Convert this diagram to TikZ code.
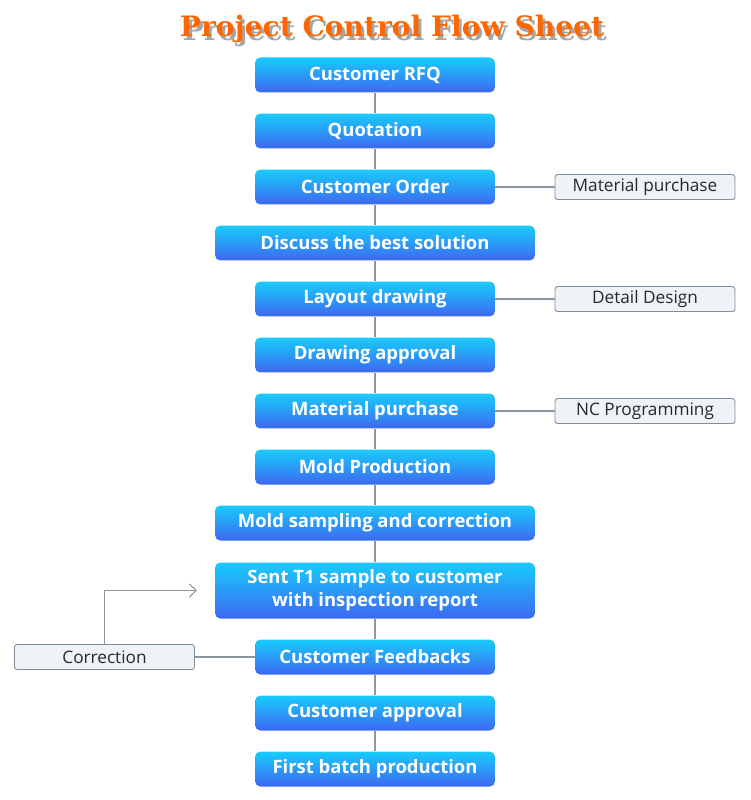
\documentclass[tikz,border=0pt]{standalone}
\usepackage{fontspec}
\setmainfont{Open Sans}
\newfontfamily\titlefont{DejaVu Serif}
\usetikzlibrary{arrows.meta}

\definecolor{boxtop}{RGB}{24,204,252}
\definecolor{boxbot}{RGB}{62,104,242}
\definecolor{linegray}{RGB}{140,150,160}
\definecolor{sidefill}{RGB}{238,243,248}
\definecolor{sidedraw}{RGB}{128,140,152}
\definecolor{sidetext}{RGB}{40,40,40}
\definecolor{titleorange}{RGB}{255,102,0}

\newcommand{\flowtitle}{Project Control Flow Sheet}

\begin{document}
\begin{tikzpicture}[x=0.02cm,y=-0.02cm,
    stepbox/.style={rounded corners=3pt,top color=boxtop,bottom color=boxbot,
      minimum width=4.8cm,minimum height=0.7cm,inner sep=1pt,
      text=white,font=\bfseries\fontsize{10.5}{13}\selectfont,align=center},
    widebox/.style={stepbox,minimum width=6.4cm},
    sidebox/.style={draw=sidedraw,fill=sidefill,rounded corners=1.5pt,
      minimum width=3.6cm,minimum height=0.5cm,inner sep=1pt,line width=0.5pt,
      text=sidetext,font=\fontsize{9.8}{11}\selectfont},
    link/.style={draw=linegray,line width=0.6pt}]
    \useasboundingbox (0,0) rectangle (750,800);

    % title with shadow
    \node[font=\titlefont\bfseries\fontsize{16}{18}\selectfont] (title) at (392,31)
      {\makebox[0pt][l]{\hspace{1.6pt}\raisebox{-1.8pt}{\color{black!35}\flowtitle}}%
       \textcolor{titleorange}{\flowtitle}};

    % main flow
    \node[stepbox] (rfq) at (375,75) {Customer RFQ};
    \node[stepbox] (quote) at (375,131) {Quotation};
    \node[stepbox] (order) at (375,187) {Customer Order};
    \node[widebox] (discuss) at (375,243) {Discuss the best solution};
    \node[stepbox] (layout) at (375,299) {Layout drawing};
    \node[stepbox] (approval) at (375,355) {Drawing approval};
    \node[stepbox] (purchase) at (375,411) {Material purchase};
    \node[stepbox] (mold) at (375,467) {Mold Production};
    \node[widebox] (sampling) at (375,523) {Mold sampling and correction};
    \node[widebox,minimum height=1.12cm] (sent) at (375,590.5)
      {Sent T1 sample to customer\\with inspection report};
    \node[stepbox] (feedback) at (375,657) {Customer Feedbacks};
    \node[stepbox] (capprove) at (375,713) {Customer approval};
    \node[stepbox] (batch) at (375,769) {First batch production};

    % side notes
    \node[sidebox] (smat) at (645,187) {Material purchase};
    \node[sidebox] (sdet) at (645,299) {Detail Design};
    \node[sidebox] (snc) at (645,411) {NC Programming};
    \node[sidebox] (scor) at (104.5,657) {Correction};
    \coordinate (back) at (197,590.5);

    % connectors
    \draw[link] (rfq) -- (quote);
    \draw[link] (quote) -- (order);
    \draw[link] (order) -- (discuss);
    \draw[link] (discuss) -- (layout);
    \draw[link] (layout) -- (approval);
    \draw[link] (approval) -- (purchase);
    \draw[link] (purchase) -- (mold);
    \draw[link] (mold) -- (sampling);
    \draw[link] (sampling) -- (sent);
    \draw[link] (sent) -- (feedback);
    \draw[link] (feedback) -- (capprove);
    \draw[link] (capprove) -- (batch);

    \draw[link] (order) -- (smat);
    \draw[link] (layout) -- (sdet);
    \draw[link] (purchase) -- (snc);
    \draw[link] (feedback) -- (scor);
    \draw[link,-{Straight Barb[length=0.14cm,width=0.26cm]}] (scor.north) |- (back);
  \end{tikzpicture}
\end{document}
